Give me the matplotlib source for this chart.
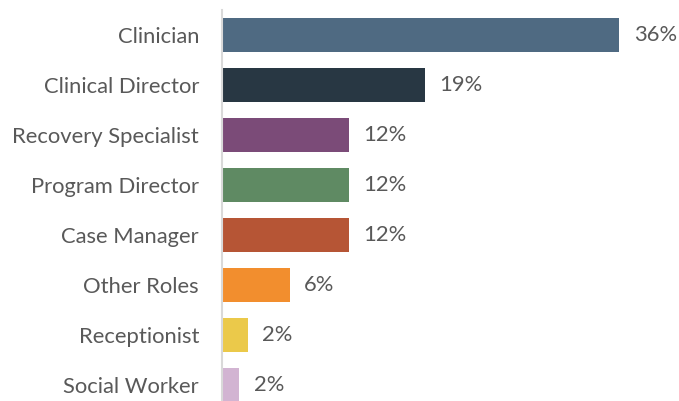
import matplotlib

matplotlib.use("Agg")
import matplotlib.pyplot as plt

ROLES = [
    "Clinician",
    "Clinical Director",
    "Recovery Specialist",
    "Program Director",
    "Case Manager",
    "Other Roles",
    "Receptionist",
    "Social Worker",
]
SHARES = [36.4, 18.6, 11.6, 11.6, 11.6, 6.2, 2.4, 1.6]
COLORS = [
    "#4F6A82",
    "#283743",
    "#7B4B78",
    "#5F8A63",
    "#B65535",
    "#F28E2E",
    "#EBC94A",
    "#D2B4D2",
]

TEXT = "#595959"
plt.rcParams["font.family"] = ["Lato", "DejaVu Sans"]

fig = plt.figure(figsize=(6.79, 4.01), dpi=100)
ax = fig.add_axes([222 / 679, 0, 436.8 / 679, 391 / 401])

ypos = list(range(len(ROLES)))
ax.barh(ypos, SHARES, height=0.68, color=COLORS)

for y, v in zip(ypos, SHARES):
    ax.text(v + 1.3, y, f"{round(v):.0f}%", va="center", ha="left",
            fontsize=15.8, color=TEXT)

ax.set_xlim(0, 40)
ax.set_ylim(7.32, -0.5)
ax.set_yticks(ypos)
ax.set_yticklabels(ROLES, fontsize=15.8, color=TEXT)
ax.tick_params(axis="y", length=0, pad=16.5)
ax.set_xticks([])

for side in ["top", "right", "bottom"]:
    ax.spines[side].set_visible(False)
ax.spines["left"].set_color("#D9D9D9")
ax.spines["left"].set_linewidth(1.5)

fig.savefig("out.png", dpi=100)
